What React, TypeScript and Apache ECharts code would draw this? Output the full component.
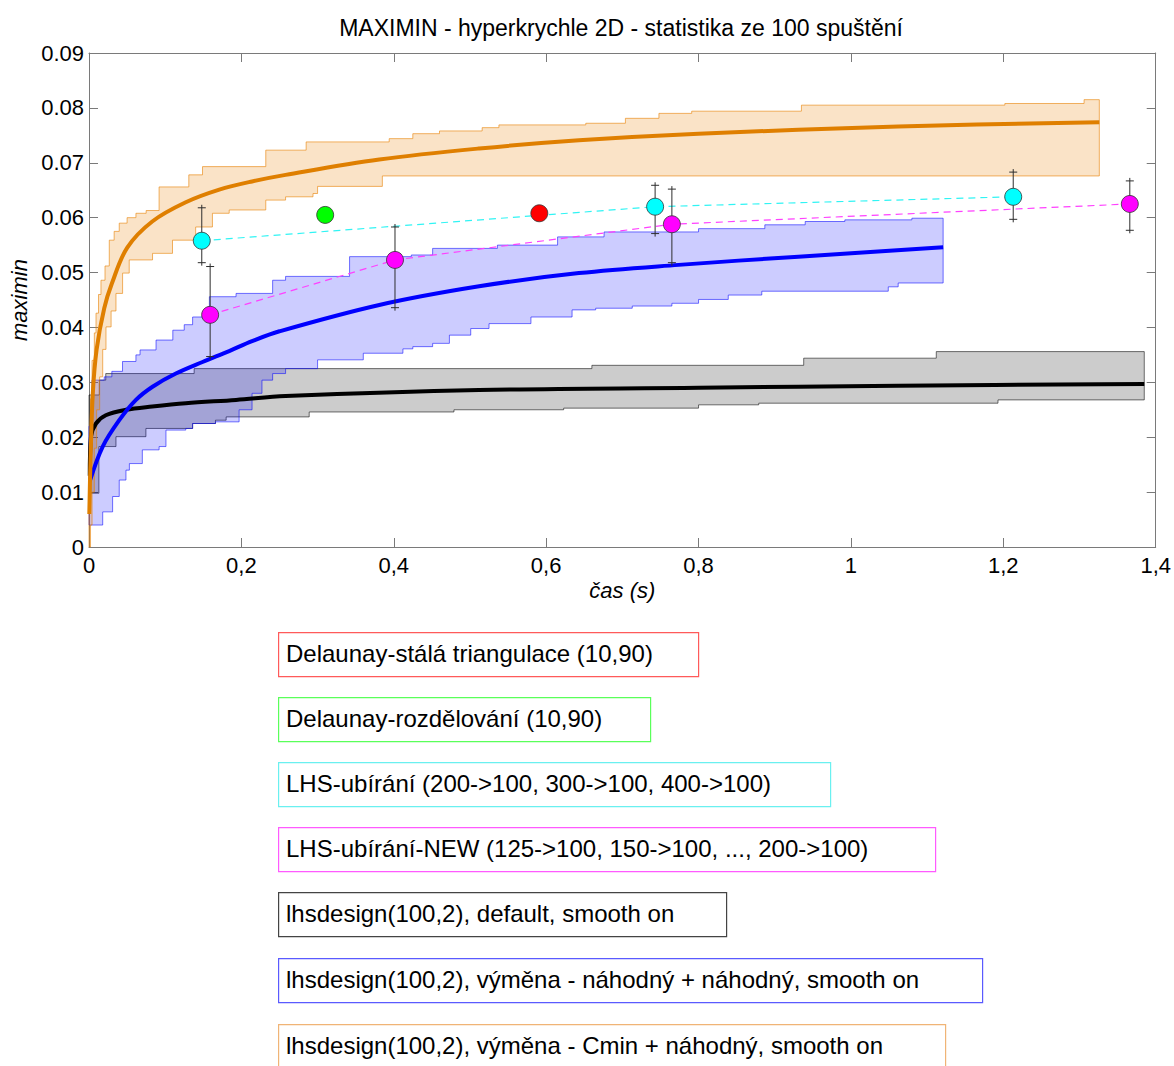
import React, { useEffect, useRef } from "react";
import * as echarts from "echarts";

// ---- axis ticks ----
const xTickLabels = ["0", "0,2", "0,4", "0,6", "0,8", "1", "1,2", "1,4"];
const yTickLabels = ["0", "0.01", "0.02", "0.03", "0.04", "0.05", "0.06", "0.07", "0.08", "0.09"];

// ---- single runs (points with error bars) ----
const delaunayFixed: [number, number] = [0.591, 0.0608];
const delaunaySplit: [number, number] = [0.31, 0.0605];

const lhsRemoveX = [0.148, 0.743, 1.213];
const lhsRemoveY = [0.0558, 0.062, 0.0638];
const lhsRemoveLo = [0.0518, 0.0571, 0.0597];
const lhsRemoveHi = [0.0618, 0.0659, 0.0683];

const lhsNewX = [0.159, 0.4016, 0.765, 1.366];
const lhsNewY = [0.0423, 0.0523, 0.0588, 0.0625];
const lhsNewLo = [0.0347, 0.0436, 0.0518, 0.0577];
const lhsNewHi = [0.0511, 0.0583, 0.0652, 0.0667];

// ---- lhsdesign default: mean curve and min/max envelope (steps) ----
const defaultMean: [number, number][] = [
  [0.001, 0.013], [0.0026, 0.0201], [0.0092, 0.0225], [0.022, 0.024], [0.0485, 0.025],
  [0.083, 0.0256], [0.127, 0.0262], [0.193, 0.0268], [0.258, 0.0275], [0.512, 0.0286],
  [0.8, 0.029], [1.062, 0.0294], [1.385, 0.0297],
];
const defaultUpper: [number, number][] = [
  [0, 0.0277], [0.0135, 0.0304], [0.022, 0.0316], [0.138, 0.0325], [0.66, 0.0331],
  [0.938, 0.0344], [1.112, 0.0356], [1.385, 0.0356],
];
const defaultLower: [number, number][] = [
  [0, 0.0098], [0.013, 0.0183], [0.0354, 0.0201], [0.0747, 0.0216], [0.136, 0.0225],
  [0.166, 0.0231], [0.18, 0.0237], [0.289, 0.0246], [0.479, 0.025], [0.623, 0.0253],
  [0.8, 0.0259], [0.879, 0.0262], [1.193, 0.0268], [1.385, 0.0268],
];

// ---- lhsdesign, swap random + random ----
const randomMean: [number, number][] = [
  [0.001, 0.012], [0.018, 0.0183], [0.0397, 0.0231], [0.0616, 0.0268], [0.0834, 0.0292],
  [0.114, 0.0316], [0.149, 0.0337], [0.184, 0.0357], [0.214, 0.0375], [0.25, 0.0393],
  [0.381, 0.0441], [0.512, 0.0475], [0.643, 0.0499], [0.774, 0.0514], [0.931, 0.0529],
  [1.121, 0.0546],
];
const randomUpper: [number, number][] = [
  [0, 0.022], [0.004, 0.0304], [0.02, 0.031], [0.03, 0.032], [0.044, 0.0338],
  [0.0616, 0.035], [0.067, 0.0359], [0.088, 0.0377], [0.11, 0.0395], [0.125, 0.0405],
  [0.136, 0.0419], [0.158, 0.0456], [0.193, 0.0462], [0.241, 0.0486], [0.258, 0.0493],
  [0.342, 0.0529], [0.423, 0.0532], [0.451, 0.0544], [0.536, 0.055], [0.615, 0.0565],
  [0.676, 0.0574], [0.8, 0.058], [0.887, 0.0587], [0.94, 0.0593], [0.992, 0.0596],
  [1.08, 0.0599], [1.121, 0.0599],
];
const randomLower: [number, number][] = [
  [0, 0.004], [0.018, 0.0064], [0.031, 0.0092], [0.0397, 0.0122], [0.0485, 0.014],
  [0.053, 0.0152], [0.07, 0.0177], [0.092, 0.0183], [0.101, 0.0213], [0.127, 0.0216],
  [0.136, 0.0225], [0.166, 0.0228], [0.197, 0.025], [0.214, 0.028], [0.227, 0.0304],
  [0.241, 0.0316], [0.258, 0.0325], [0.3, 0.0341], [0.36, 0.0353], [0.412, 0.0361],
  [0.425, 0.0365], [0.451, 0.0371], [0.473, 0.0386], [0.501, 0.0398], [0.525, 0.0407],
  [0.58, 0.0419], [0.634, 0.0432], [0.665, 0.0435], [0.713, 0.0439], [0.765, 0.0444],
  [0.8, 0.0451], [0.839, 0.0459], [0.883, 0.0466], [1.049, 0.0474], [1.062, 0.0481],
  [1.121, 0.0481],
];

// ---- lhsdesign, swap Cmin + random ----
const cminMean: [number, number][] = [
  [0.0004, 0.006], [0.002, 0.016], [0.005, 0.028], [0.01, 0.036], [0.02, 0.0435],
  [0.03, 0.048], [0.05, 0.0545], [0.083, 0.0593], [0.127, 0.0628], [0.171, 0.0651],
  [0.214, 0.0666], [0.258, 0.0678], [0.381, 0.0706], [0.512, 0.0726], [0.643, 0.0741],
  [0.8, 0.0753], [1.062, 0.0766], [1.326, 0.0774],
];
const cminUpper: [number, number][] = [
  [0, 0.008], [0.001, 0.02], [0.002, 0.027], [0.004, 0.034], [0.007, 0.039],
  [0.0092, 0.0426], [0.0125, 0.046], [0.0157, 0.0486], [0.021, 0.0512], [0.0266, 0.0559],
  [0.033, 0.0575], [0.0397, 0.059], [0.05, 0.06], [0.0616, 0.0608], [0.075, 0.0613],
  [0.092, 0.0656], [0.131, 0.0678], [0.149, 0.0693], [0.232, 0.0723], [0.285, 0.0738],
  [0.394, 0.0744], [0.425, 0.0753], [0.46, 0.0758], [0.516, 0.0764], [0.538, 0.0769],
  [0.652, 0.0772], [0.704, 0.0781], [0.748, 0.079], [0.791, 0.0794], [0.935, 0.0805],
  [1.202, 0.0808], [1.306, 0.0815], [1.326, 0.0815],
];
const cminLower: [number, number][] = [
  [0, 0.0], [0.002, 0.004], [0.004, 0.01], [0.007, 0.018], [0.01, 0.025],
  [0.014, 0.031], [0.018, 0.036], [0.0223, 0.0401], [0.029, 0.043], [0.0354, 0.0462],
  [0.0441, 0.0499], [0.0528, 0.0523], [0.0834, 0.0535], [0.1096, 0.0559], [0.14, 0.0583],
  [0.162, 0.0608], [0.184, 0.0614], [0.232, 0.0632], [0.258, 0.0638], [0.294, 0.0644],
  [0.3, 0.0657], [0.385, 0.0676], [1.326, 0.0676],
];

// ---- legend ----
const legendLabels = [
  "Delaunay-stálá triangulace (10,90)",
  "Delaunay-rozdělování (10,90)",
  "LHS-ubírání (200->100, 300->100, 400->100)",
  "LHS-ubírání-NEW (125->100, 150->100, ..., 200->100)",
  "lhsdesign(100,2), default, smooth on",
  "lhsdesign(100,2), výměna - náhodný + náhodný, smooth on",
  "lhsdesign(100,2), výměna - Cmin + náhodný, smooth on",
];
const legendBorder = ["#ff5a5a", "#5aff5a", "#6af0f0", "#ff5aff", "#444444", "#5a5aff", "#f0b476"];
const legendBoxWidth = [420, 372, 552, 657, 448, 704, 667];
const legendBoxTop = [632, 697, 762, 827, 892, 958, 1024];

const FONT = "'Liberation Sans', Arial, sans-serif";

function bandSeries(upper: [number, number][], lower: [number, number][], fill: string, stroke: string, z: number) {
  return {
    type: "custom",
    silent: true,
    z,
    data: [[upper[0][0], upper[0][1]]],
    encode: { x: 0, y: 1 },
    renderItem: (_p: any, api: any) => {
      const pts: number[][] = [];
      for (let i = 0; i < upper.length - 1; i++) {
        pts.push(api.coord([upper[i][0], upper[i][1]]));
        pts.push(api.coord([upper[i + 1][0], upper[i][1]]));
      }
      const ul = upper[upper.length - 1];
      pts.push(api.coord([ul[0], ul[1]]));
      const ll = lower[lower.length - 1];
      pts.push(api.coord([ll[0], ll[1]]));
      for (let i = lower.length - 2; i >= 0; i--) {
        pts.push(api.coord([lower[i + 1][0], lower[i][1]]));
        pts.push(api.coord([lower[i][0], lower[i][1]]));
      }
      return {
        type: "polygon",
        shape: { points: pts },
        style: { fill, stroke, lineWidth: 1 },
      };
    },
  };
}

function errorBarSeries(xs: number[], lo: number[], hi: number[]) {
  return {
    type: "custom",
    silent: true,
    z: 6,
    data: xs.map((x, i) => [x, lo[i], hi[i]]),
    encode: { x: 0, y: [1, 2] },
    renderItem: (_p: any, api: any) => {
      const x = api.value(0);
      const a = api.coord([x, api.value(2)]);
      const b = api.coord([x, api.value(1)]);
      const w = 4;
      const st = { stroke: "#2e2e2e", lineWidth: 1 };
      return {
        type: "group",
        children: [
          { type: "line", shape: { x1: a[0], y1: a[1] - 3, x2: b[0], y2: b[1] + 3 }, style: st },
          { type: "line", shape: { x1: a[0] - w, y1: a[1], x2: a[0] + w, y2: a[1] }, style: st },
          { type: "line", shape: { x1: b[0] - w, y1: b[1], x2: b[0] + w, y2: b[1] }, style: st },
        ],
      };
    },
  };
}

function meanLine(data: [number, number][], color: string, z: number) {
  return {
    type: "line",
    data,
    showSymbol: false,
    symbol: "none",
    smooth: 0.35,
    z,
    silent: true,
    lineStyle: { color, width: 4 },
  };
}

function dots(data: [number, number][], color: string) {
  return {
    type: "scatter",
    data,
    symbolSize: 17,
    z: 8,
    silent: true,
    itemStyle: { color, borderColor: "#333", borderWidth: 0.8, opacity: 1 },
  };
}

function dashed(data: [number, number][], color: string) {
  return {
    type: "line",
    data,
    symbol: "none",
    showSymbol: false,
    z: 5,
    silent: true,
    lineStyle: { color, width: 1.2, type: [7, 5] },
  };
}

const axisColor = "#7a7a7a";

export default function App() {
  const ref = useRef<HTMLDivElement>(null);

  useEffect(() => {
    if (!ref.current) return;
    const chart = echarts.init(ref.current, undefined, { renderer: "svg" });

    const lhsRemovePts = lhsRemoveX.map((x, i) => [x, lhsRemoveY[i]] as [number, number]);
    const lhsNewPts = lhsNewX.map((x, i) => [x, lhsNewY[i]] as [number, number]);

    const graphics: any[] = [];
    legendLabels.forEach((label, i) => {
      graphics.push({
        type: "rect",
        left: 278,
        top: legendBoxTop[i],
        shape: { width: legendBoxWidth[i], height: 44 },
        style: { fill: "#fff", stroke: legendBorder[i], lineWidth: 1.2 },
      });
      graphics.push({
        type: "text",
        left: 286,
        top: legendBoxTop[i] + 9,
        style: { text: label, font: `24px ${FONT}`, fill: "#000" },
      });
    });

    const baseAxis = {
      type: "value",
      splitLine: { show: false },
      axisLine: { show: true, onZero: false, lineStyle: { color: axisColor, width: 1 } },
      axisTick: { show: true, inside: true, length: 9, lineStyle: { color: axisColor, width: 1 } },
    };

    chart.setOption({
      animation: false,
      backgroundColor: "#fff",
      title: {
        text: "MAXIMIN - hyperkrychle 2D - statistika ze 100 spuštění",
        left: 616,
        top: 11,
        textAlign: "center",
        textStyle: { fontFamily: FONT, fontSize: 23, fontWeight: "normal", color: "#000" },
      },
      grid: { left: 89, right: 16, top: 53, bottom: 519, containLabel: false },
      xAxis: [
        {
          ...baseAxis,
          min: 0,
          max: 1.4,
          interval: 0.2,
          position: "bottom",
          axisLabel: {
            color: "#000",
            fontFamily: FONT,
            fontSize: 22,
            margin: 7,
            formatter: (v: number) => xTickLabels[Math.round(v / 0.2)] ?? "",
          },
          name: "čas (s)",
          nameLocation: "middle",
          nameGap: 32,
          nameTextStyle: { fontFamily: FONT, fontSize: 22, fontStyle: "italic", color: "#000" },
        },
        {
          ...baseAxis,
          min: 0,
          max: 1.4,
          interval: 0.2,
          position: "top",
          axisLabel: { show: false },
        },
      ],
      yAxis: [
        {
          ...baseAxis,
          min: 0,
          max: 0.09,
          interval: 0.01,
          position: "left",
          axisLabel: {
            color: "#000",
            fontFamily: FONT,
            fontSize: 22,
            margin: 5,
            formatter: (v: number) => yTickLabels[Math.round(v / 0.01)] ?? "",
          },
          name: "maximin",
          nameLocation: "middle",
          nameGap: 56,
          nameTextStyle: { fontFamily: FONT, fontSize: 22, fontStyle: "italic", color: "#000" },
        },
        {
          ...baseAxis,
          min: 0,
          max: 0.09,
          interval: 0.01,
          position: "right",
          axisLabel: { show: false },
        },
      ],
      series: [
        bandSeries(defaultUpper, defaultLower, "rgba(0,0,0,0.2)", "rgba(0,0,0,0.55)", 1),
        bandSeries(randomUpper, randomLower, "rgba(0,0,255,0.2)", "rgba(0,0,255,0.55)", 1),
        bandSeries(cminUpper, cminLower, "rgba(232,128,0,0.22)", "rgba(232,128,0,0.6)", 1),
        meanLine(defaultMean, "#000000", 3),
        meanLine(randomMean, "#0000ff", 3),
        meanLine(cminMean, "#df7f00", 3),
        dashed(lhsRemovePts, "#30f4f4"),
        dashed(lhsNewPts, "#ff40ff"),
        errorBarSeries(lhsRemoveX, lhsRemoveLo, lhsRemoveHi),
        errorBarSeries(lhsNewX, lhsNewLo, lhsNewHi),
        dots([delaunayFixed], "#ff0000"),
        dots([delaunaySplit], "#00ff00"),
        dots(lhsRemovePts, "#00ffff"),
        dots(lhsNewPts, "#ff00ff"),
      ],
      graphic: graphics,
    });

    return () => chart.dispose();
  }, []);

  return (
    <div
      ref={ref}
      style={{ position: "absolute", left: 0, top: 0, width: 1174, height: 1066, background: "#fff" }}
    />
  );
}
